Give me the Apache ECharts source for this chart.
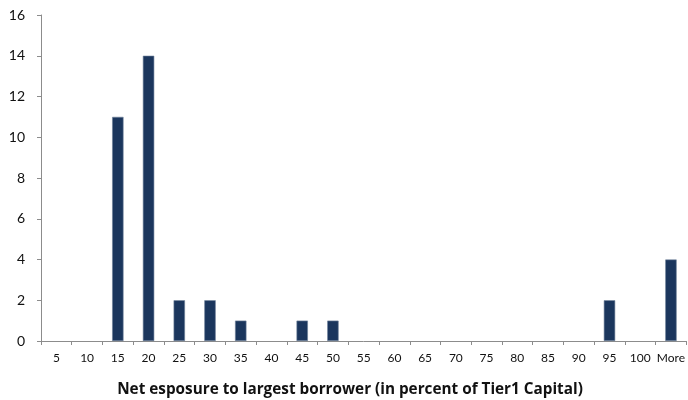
<!DOCTYPE html>
<html>
<head>
<meta charset="utf-8">
<script src="https://cdn.jsdelivr.net/npm/echarts@6/dist/echarts.min.js"></script>
<style>
  html, body { margin: 0; padding: 0; background: #fff; }
  #chart { width: 688px; height: 400px; }
</style>
</head>
<body>
<div id="chart"></div>
<script>
// Histogram bins (upper bound, in percent of Tier1 capital)
const bins = ['5','10','15','20','25','30','35','40','45','50','55','60','65','70','75','80','85','90','95','100','More'];
// Number of banks in each bin
const counts = [0,0,11,14,2,2,1,0,1,1,0,0,0,0,0,0,0,0,2,0,4];
const yTicks = { min: 0, max: 16, interval: 2 };
const xTitle = 'Net esposure to largest borrower (in percent of Tier1 Capital)';

const chart = echarts.init(document.getElementById('chart'));
const font = 'Lato, "Open Sans", sans-serif';
chart.setOption({
  animation: false,
  grid: { left: 41, right: -1, top: 15, bottom: 59, containLabel: false },
  xAxis: {
    type: 'category',
    data: bins,
    boundaryGap: true,
    axisLine: { lineStyle: { color: '#8c8c8c', width: 1 } },
    axisTick: { show: true, length: 4, alignWithLabel: false, lineStyle: { color: '#8c8c8c' } },
    axisLabel: { color: '#111', fontSize: 12, fontFamily: font, margin: 11, interval: 0 },
    splitLine: { show: false }
  },
  yAxis: {
    type: 'value',
    min: yTicks.min, max: yTicks.max, interval: yTicks.interval,
    axisLine: { show: true, lineStyle: { color: '#8c8c8c', width: 1 } },
    axisTick: { show: true, length: 4, lineStyle: { color: '#8c8c8c' } },
    axisLabel: { color: '#111', fontSize: 14, fontFamily: font, margin: 16 },
    splitLine: { show: false }
  },
  series: [{
    type: 'bar',
    // empty bins get no outline so nothing is drawn on the baseline
    data: counts.map(v => ({
      value: v,
      itemStyle: { borderWidth: v > 0 ? 0.6 : 0 }
    })),
    barWidth: '37%',
    itemStyle: { color: '#1b365d', borderColor: '#6d7f98' }
  }],
  graphic: [{
    type: 'text',
    x: 350,
    y: 390,
    style: {
      text: xTitle,
      fill: '#111',
      align: 'center',
      verticalAlign: 'middle',
      font: 'bold 15.3px "Open Sans", sans-serif'
    }
  }]
});
</script>
</body>
</html>
